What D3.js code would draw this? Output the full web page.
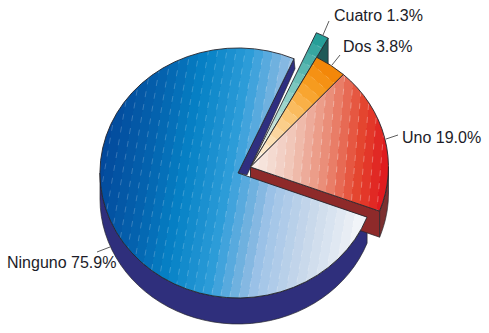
<!DOCTYPE html>
<html>
<head>
<meta charset="utf-8">
<script src="https://cdn.jsdelivr.net/npm/d3@7"></script>
<style>
html,body{margin:0;padding:0;background:#fff;}
svg{display:block;}
text{font-family:"Liberation Sans",Arial,sans-serif;font-size:16px;fill:#1c1c28;}
</style>
</head>
<body>
<div id="canvas"></div>
<script>
//Data
var categories = ['Ninguno','Cuatro','Dos','Uno'];
var values = [75.9,1.3,3.8,19.0];
var labels = ['Ninguno 75.9%','Cuatro 1.3%','Dos 3.8%','Uno 19.0%'];

//Layout
var W = 489, H = 333;
var rx = 138, ry = 125, depth = 26;
var rad = Math.PI/180;
var startDeg = 110.7;
var main = {x:238,y:173}, moved = {x:250.5,y:167};
var stretch = {Cuatro:1.175};
var labelPos = {
    Ninguno:{x:7,y:268,line:[97,252,110,247]},
    Cuatro:{x:334,y:21,line:[329,21,323,35]},
    Dos:{x:343,y:52,line:[340,55,332,65]},
    Uno:{x:402,y:143,line:[398,135,386,139]}
};
var outline = '#26262e';

var svg = d3.select('#canvas').append('svg').attr('width',W).attr('height',H);
var defs = svg.append('defs');

var pie = d3.pie().sort(null).value(function(d){return d.value})
    .startAngle(startDeg*rad).endAngle((startDeg+360)*rad);
var slices = {};
pie(categories.map(function(c,i){return {name:c,value:values[i]}})).forEach(function(s){
    slices[s.data.name] = s;
});

var arc = d3.arc().innerRadius(0).outerRadius(function(d){return stretch[d.data.name]||1});

function pt(c,a,r,dy){
    return [c.x+rx*r*Math.sin(a), c.y-ry*r*Math.cos(a)+(dy||0)];
}
function faceTransform(c){return 'translate('+c.x+','+c.y+') scale('+rx+','+ry+')'}

//Stepped gradient, returns the seams of the bands for the dashes
function bands(id,axis,colors,n){
    var scale = d3.scaleLinear().domain(colors.map(function(d){return d[0]})).range(colors.map(function(d){return d[1]}));
    var g = defs.append('linearGradient').attr('id',id).attr('gradientUnits','userSpaceOnUse')
        .attr('x1',axis[0]).attr('y1',axis[1]).attr('x2',axis[2]).attr('y2',axis[3]);
    d3.range(n).forEach(function(i){
        var col = scale((i+.5)/n);
        g.append('stop').attr('offset',i/n).attr('stop-color',col);
        g.append('stop').attr('offset',(i+1)/n).attr('stop-color',col);
    });
    return d3.range(1,n).map(function(i){
        var t = i/n, dx = axis[2]-axis[0], dy = axis[3]-axis[1];
        return {x:axis[0]+dx*t,y:axis[1]+dy*t,nx:-dy,ny:dx};
    });
}

function drawFace(name,c,fillId,seams,dash){
    var s = slices[name];
    var clipId = 'clip-'+name;
    defs.append('clipPath').attr('id',clipId).append('path')
        .attr('d',arc(s)).attr('transform',faceTransform(c));
    var g = svg.append('g').attr('clip-path','url(#'+clipId+')');
    g.append('rect').attr('width',W).attr('height',H).attr('fill','url(#'+fillId+')');
    g.selectAll('line').data(seams).enter().append('line')
        .attr('x1',function(d){var l=Math.hypot(d.nx,d.ny);return d.x-d.nx/l*300})
        .attr('y1',function(d){var l=Math.hypot(d.nx,d.ny);return d.y-d.ny/l*300})
        .attr('x2',function(d){var l=Math.hypot(d.nx,d.ny);return d.x+d.nx/l*300})
        .attr('y2',function(d){var l=Math.hypot(d.nx,d.ny);return d.y+d.ny/l*300})
        .attr('stroke','#fff').attr('stroke-opacity',dash.o).attr('stroke-width',.7)
        .attr('stroke-dasharray',dash.a);
    svg.append('path').attr('d',arc(s)).attr('transform',faceTransform(c))
        .attr('fill','none').attr('stroke',outline).attr('stroke-width',.9)
        .attr('vector-effect','non-scaling-stroke').attr('stroke-linejoin','round');
}

function poly(points,fill){
    svg.append('path').attr('d',d3.line()(points)+'Z').attr('fill',fill)
        .attr('stroke',outline).attr('stroke-width',.7).attr('stroke-linejoin','round');
}

function rim(c,a0,a1,fill){
    var as = d3.range(0,41).map(function(i){return a0+(a1-a0)*i/40});
    var pts = as.map(function(a){return pt(c,a,1)})
        .concat(as.slice().reverse().map(function(a){return pt(c,a,1,depth)}));
    poly(pts,fill);
}

//Walls, back to front
var nin = slices.Ninguno, uno = slices.Uno, cua = slices.Cuatro;

//start wall of Ninguno, seen through the gap
var tip = pt(main,nin.endAngle,1);
poly([[main.x,main.y],tip,[tip[0]+1,tip[1]+10],[main.x+9,main.y+2]],'#2f2f80');
rim(main,nin.startAngle,270*rad,'#2f2f7c');

var cuaTip = pt(moved,cua.endAngle,stretch.Cuatro);
poly([[moved.x,moved.y],cuaTip,[cuaTip[0],cuaTip[1]+depth],[moved.x,moved.y+depth]],'#1f5a58');

rim(moved,90*rad,uno.endAngle-2*Math.PI,'#7c3030');
var unoTip = pt(moved,uno.endAngle,1);
poly([[moved.x,moved.y],unoTip,[unoTip[0],unoTip[1]+depth],[moved.x,moved.y+depth]],'#8e2a2a');

//Faces
var seamsC = bands('gCuatro',[262,150,322,36],[[0,'#f6f1e6'],[.45,'#8fd0c8'],[1,'#1d9a94']],12);
drawFace('Cuatro',moved,'gCuatro',seamsC,{o:.3,a:'5 5'});

var seamsD = bands('gDos',[254,160,332,68],[[0,'#fbf3e6'],[.45,'#fbc778'],[.75,'#f7a024'],[1,'#f28204']],12);
drawFace('Dos',moved,'gDos',seamsD,{o:.3,a:'5 5'});

var seamsU = bands('gUno',[250,160,389,172],[[0,'#f8f1ec'],[.3,'#f0c4b6'],[.55,'#ea8a74'],[.78,'#e4452f'],[1,'#df141c']],16);
drawFace('Uno',moved,'gUno',seamsU,{o:.45,a:'6 7'});

var seamsN = bands('gNinguno',[99,150,367,197],[[0,'#03479a'],[.18,'#0461ad'],[.33,'#0682c6'],[.48,'#2a9bd8'],[.53,'#4aa6dd'],[.6,'#7ab4e0'],[.66,'#a0c4e8'],[.8,'#c5d6ea'],[.95,'#e8edf4'],[1,'#f6f7fa']],30);
drawFace('Ninguno',main,'gNinguno',seamsN,{o:.3,a:'6 7'});

//Labels and leaders
categories.forEach(function(c,i){
    var p = labelPos[c];
    svg.append('line').attr('x1',p.line[0]).attr('y1',p.line[1]).attr('x2',p.line[2]).attr('y2',p.line[3])
        .attr('stroke','#333').attr('stroke-width',.8);
    svg.append('text').attr('x',p.x).attr('y',p.y).text(labels[i]);
});
</script>
</body>
</html>
